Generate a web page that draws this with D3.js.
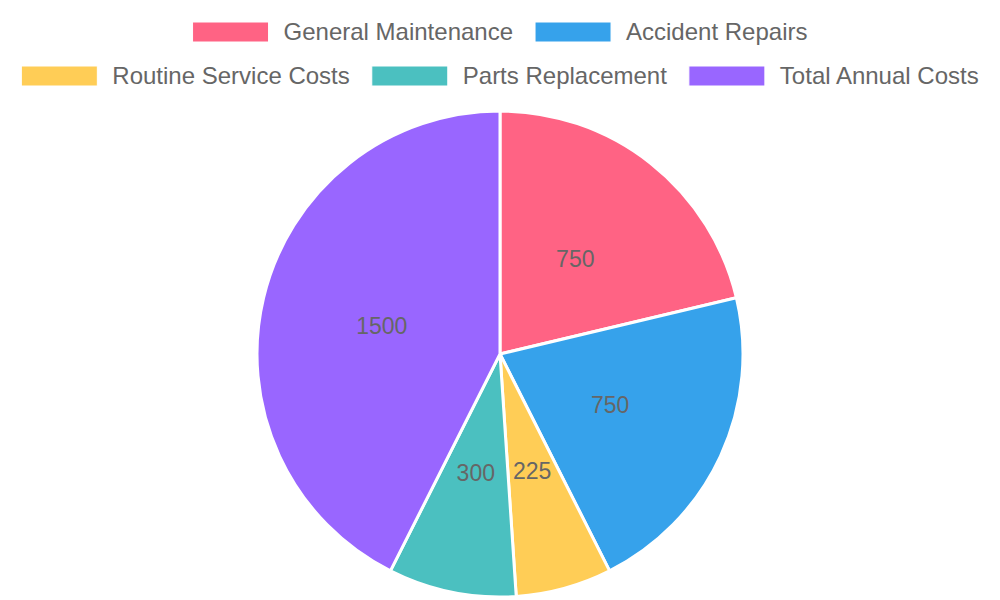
<!DOCTYPE html>
<html>
<head>
<meta charset="utf-8">
<script src="https://cdn.jsdelivr.net/npm/d3@7"></script>
<style>
  body { margin: 0; background: #fff; }
  text { font-family: "Liberation Sans", Arial, sans-serif; }
</style>
</head>
<body>
<div id="chart"></div>
<script>
// data
var categories = ['General Maintenance', 'Accident Repairs', 'Routine Service Costs', 'Parts Replacement', 'Total Annual Costs'];
var values = [750, 750, 225, 300, 1500];
var colors = ['#ff6384', '#36a2eb', '#ffcd56', '#4bc0c0', '#9966ff'];

var width = 1000, height = 600;
var cx = 500, cy = 354, radius = 243;

var svg = d3.select('#chart')
  .append('svg')
  .attr('width', width)
  .attr('height', height);

var data = categories.map(function(c, i){ return {name: c, value: values[i], color: colors[i]}; });

var pie = d3.pie().sort(null).value(function(d){ return d.value; });
var arc = d3.arc().innerRadius(0).outerRadius(radius);
var labelArc = d3.arc().innerRadius(radius / 2).outerRadius(radius / 2);

var g = svg.append('g').attr('transform', 'translate(' + cx + ',' + cy + ')');

var slices = g.selectAll('.slice')
  .data(pie(data))
  .enter()
  .append('g')
  .attr('class', 'slice');

slices.append('path')
  .attr('d', arc)
  .attr('fill', function(d){ return d.data.color; })
  .attr('stroke', '#fff')
  .attr('stroke-width', 3)
  .attr('stroke-linejoin', 'round');

slices.append('text')
  .attr('transform', function(d){ return 'translate(' + labelArc.centroid(d) + ')'; })
  .attr('text-anchor', 'middle')
  .attr('dy', '0.35em')
  .attr('font-size', '23px')
  .attr('fill', '#666')
  .text(function(d){ return d.data.value; });

// legend - two rows, centred, like chart.js
var rows = [[0, 1], [2, 3, 4]];
var rowY = [32, 76];
var boxW = 76, boxH = 20, pad = 15, gap = 22;
var legend = svg.append('g').attr('class', 'legend');

// measure text widths
var measure = svg.append('text').attr('font-size', '24px');
function textW(s){ measure.text(s); return measure.node().getComputedTextLength(); }

rows.forEach(function(row, r){
  var widths = row.map(function(i){ return boxW + pad + textW(categories[i]); });
  var total = d3.sum(widths) + gap * (row.length - 1);
  var x = width / 2 - total / 2;
  row.forEach(function(i, k){
    var item = legend.append('g').attr('transform', 'translate(' + x + ',' + rowY[r] + ')');
    item.append('rect')
      .attr('x', 0).attr('y', -boxH / 2)
      .attr('width', boxW).attr('height', boxH)
      .attr('fill', colors[i])
      .attr('stroke', '#fff').attr('stroke-width', 1);
    item.append('text')
      .attr('x', boxW + pad)
      .attr('dy', '0.35em')
      .attr('font-size', '24px')
      .attr('fill', '#666')
      .text(categories[i]);
    x += widths[k] + gap;
  });
});
measure.remove();
</script>
</body>
</html>
